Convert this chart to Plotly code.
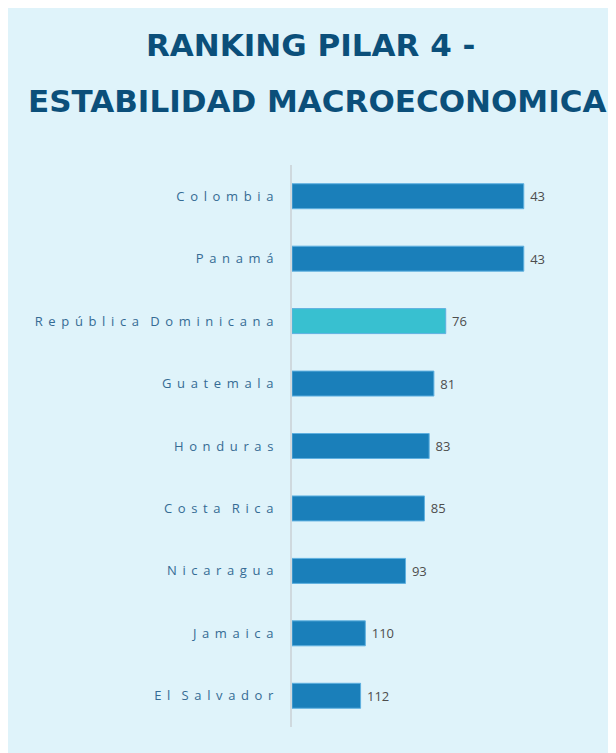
import plotly.graph_objects as go

countries = ["Colombia", "Panamá", "República Dominicana", "Guatemala", "Honduras",
             "Costa Rica", "Nicaragua", "Jamaica", "El Salvador"]
ranks = [43, 43, 76, 81, 83, 85, 93, 110, 112]
highlight = "República Dominicana"

TOP = 141  # rank that sits on the left edge of the bars

BLUE = "#1a7fba"
TEAL = "#38c0d0"
NAVY = "#0b4f7a"

L, T, W, H = 284, 157, 298, 562


def spaced(s):
    # fake letter spacing
    gap = "\u2004\u200a"
    return gap.join(s).replace(gap + " " + gap, gap * 2)


colors = [TEAL if c == highlight else BLUE for c in countries]
labels = [spaced(c) for c in countries]

fig = go.Figure()
fig.add_trace(go.Bar(
    y=labels,
    x=[r - TOP for r in ranks],
    base=TOP,
    orientation="h",
    width=0.4,
    marker=dict(color=colors, line=dict(color="#5fb0e0", width=1)),
    text=[str(r) for r in ranks],
    texttemplate=" %{text}",
    textposition="outside",
    cliponaxis=False,
    textfont=dict(family="Open Sans", size=13, color="#4d4d4d"),
))

fig.update_layout(
    width=616, height=753,
    margin=dict(l=L, r=616 - L - W, t=T, b=753 - T - H),
    paper_bgcolor="#dff3fa",
    plot_bgcolor="rgba(0,0,0,0)",
    showlegend=False,
    annotations=[
        dict(text="<b>RANKING PILAR 4 -</b>", xref="paper", yref="paper",
             x=(302 - L) / W, y=1 + (T - 37) / H, xanchor="center", yanchor="middle",
             showarrow=False, font=dict(family="DejaVu Sans", size=31, color=NAVY)),
        dict(text="<b>ESTABILIDAD MACROECONOMICA</b>", xref="paper", yref="paper",
             x=(309 - L) / W, y=1 + (T - 93) / H, xanchor="center", yanchor="middle",
             showarrow=False, font=dict(family="DejaVu Sans", size=31, color=NAVY)),
    ],
)
fig.update_xaxes(range=[TOP, 15], showgrid=False, zeroline=False,
                 showticklabels=False, showline=False)
fig.update_yaxes(autorange="reversed", showgrid=False, zeroline=False,
                 showline=True, linecolor="#cfd9de", linewidth=2, ticks="",
                 ticklabelstandoff=14,
                 tickfont=dict(family="Open Sans", size=13, color="#356b94"))

fig.write_html("out.html")
